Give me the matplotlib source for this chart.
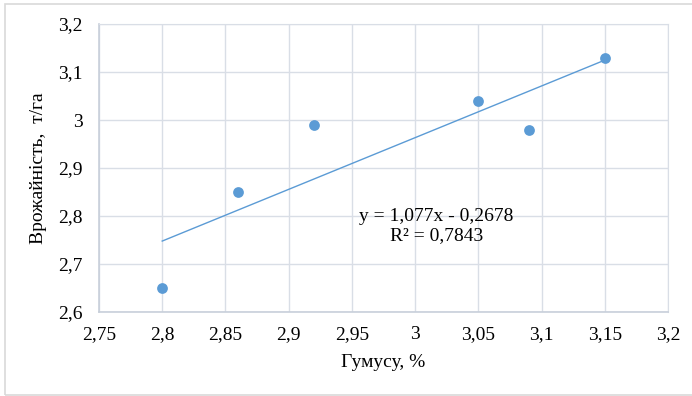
import numpy as np
import matplotlib as mpl
mpl.use('Agg')
import matplotlib.pyplot as plt
from matplotlib.patches import Rectangle

humus = [2.80, 2.86, 2.92, 3.05, 3.09, 3.15]
yield_t = [2.65, 2.85, 2.99, 3.04, 2.98, 3.13]
slope, intercept = 1.077, -0.2678

x_ticks = [2.75, 2.8, 2.85, 2.9, 2.95, 3.0, 3.05, 3.1, 3.15, 3.2]
y_ticks = [2.6, 2.7, 2.8, 2.9, 3.0, 3.1, 3.2]

def comma(v):
    s = ('%.2f' % v).rstrip('0').rstrip('.')
    return s.replace('.', ',')

plt.rcParams['font.family'] = ['Liberation Serif', 'DejaVu Serif']

fig = plt.figure(figsize=(6.92, 3.96), dpi=100)
ax = fig.add_axes([99/692, 84/396, 569/692, 288/396])

blue = '#5B9BD5'
grid = '#D9DEE6'

xl = np.array([humus[0], humus[-1]])
ax.plot(xl, slope*xl + intercept, color=blue, lw=1.0, zorder=3)
ax.scatter(humus, yield_t, s=60, color=blue, zorder=4, linewidths=0)

ax.set_xlim(2.75, 3.2)
ax.set_ylim(2.6, 3.2)
ax.set_xticks(x_ticks)
ax.set_yticks(y_ticks)
ax.set_xticklabels([comma(v) for v in x_ticks], fontsize=14)
ax.set_yticklabels([comma(v) for v in y_ticks], fontsize=14)
ax.tick_params(axis='x', length=0, pad=10)
ax.tick_params(axis='y', length=0, pad=12)
ax.grid(True, color=grid, lw=1.0)
ax.set_axisbelow(True)
for s in ['top', 'right']:
    ax.spines[s].set_color(grid)
for s in ['left', 'bottom']:
    ax.spines[s].set_color('#C8CFDA')
    ax.spines[s].set_linewidth(1.2)

ax.set_xlabel('Гумусу, %', fontsize=14, labelpad=8)
ax.set_ylabel('Врожайність,  т/га', fontsize=14, labelpad=8)

ax.text(3.017, 2.779, 'y = 1,077x - 0,2678\nR² = 0,7843', fontsize=14,
        ha='center', va='center', linespacing=1.1)

fig.patches.append(Rectangle((5/692, 1/396), 700/692, 391/396, transform=fig.transFigure,
                             fill=False, edgecolor='#D9D9D9', lw=1.2))

fig.savefig('out.png', dpi=100)
